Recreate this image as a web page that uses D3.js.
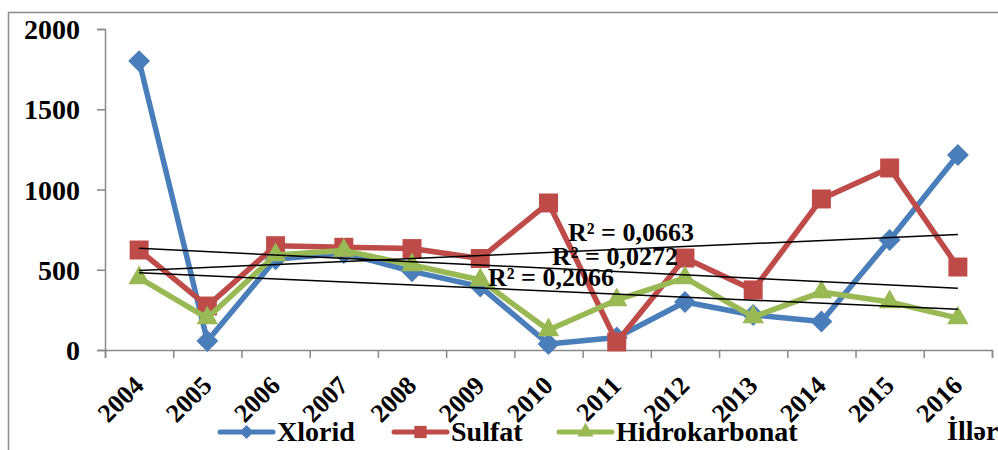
<!DOCTYPE html>
<html>
<head>
<meta charset="utf-8">
<script src="https://cdn.jsdelivr.net/npm/d3@7"></script>
<style>
  html, body { margin: 0; padding: 0; background: #fff; }
  svg { display: block; }
  text { font-family: "Liberation Serif", "Times New Roman", serif; font-weight: bold; fill: #000; }
</style>
</head>
<body>
<div id="chart"></div>
<script>
const years = ['2004', '2005', '2006', '2007', '2008', '2009', '2010', '2011', '2012', '2013', '2014', '2015', '2016'];
const xlorid = [1800, 56, 565, 604, 490, 395, 37, 78, 299, 218, 178, 685, 1215];
const sulfat = [623, 274, 650, 640, 632, 570, 916, 50, 573, 374, 941, 1134, 517];
const hidrokarbonat = [449, 199, 592, 620, 530, 436, 125, 312, 449, 206, 361, 299, 199];
const seriesNames = ['Xlorid', 'Sulfat', 'Hidrokarbonat'];
const r2Labels = ['R² = 0,0272', 'R² = 0,0663', 'R² = 0,2066'];
const yTicks = [0, 500, 1000, 1500, 2000];
const axisTitle = 'İllər';

const width = 998;
const height = 450;
const colors = ['#4a7ebb', '#be4b48', '#98b954'];
const symbols = [d3.symbolSquare, d3.symbolSquare, d3.symbolTriangle];
const markerSize = [240, 360, 200];
const legendSize = [100, 150, 110];

const svg = d3.select('#chart')
  .append('svg')
  .attr('width', width)
  .attr('height', height);

// outer frame of the chart area
svg.append('rect')
  .attr('x', 8.5)
  .attr('y', 12.5)
  .attr('width', width + 10)
  .attr('height', height + 10)
  .attr('fill', 'none')
  .attr('stroke', '#8c8c8c')
  .attr('stroke-width', 1.5);

const xEdge = d3.scaleLinear().domain([0, years.length]).range([105, 992]);
const xc = i => xEdge(i + 0.5);
const y = d3.scaleLinear().domain([0, 2000]).range([350, 29]);

// y axis
const yAxis = svg.append('g')
  .attr('transform', 'translate(105,0)')
  .call(d3.axisLeft(y).tickValues(yTicks).tickSize(8).tickPadding(17).tickFormat(d3.format('d')));
yAxis.selectAll('text')
  .attr('font-size', 28)
  .attr('dy', '0.34em')
  .style('font-family', '"Liberation Serif", serif')
  .style('font-weight', 'bold');

// x axis
svg.append('g')
  .attr('transform', 'translate(0,350)')
  .call(d3.axisBottom(xEdge).tickValues(d3.range(years.length + 1)).tickSize(8).tickFormat(''));

svg.selectAll('.domain, .tick line')
  .attr('stroke', '#898989')
  .attr('stroke-width', 1.5);

svg.append('g')
  .selectAll('text')
  .data(years)
  .join('text')
  .attr('transform', (d, i) => `translate(${xc(i) + 6},387) rotate(-45)`)
  .attr('text-anchor', 'end')
  .attr('font-size', 26)
  .text(d => d);

// series
const allSeries = [xlorid, sulfat, hidrokarbonat];
const line = d3.line()
  .x((d, i) => xc(i))
  .y(d => y(d));

allSeries.forEach((values, s) => {
  const g = svg.append('g');
  g.append('path')
    .datum(values)
    .attr('d', line)
    .attr('fill', 'none')
    .attr('stroke', colors[s])
    .attr('stroke-width', 5.5)
    .attr('stroke-linejoin', 'round');
  g.selectAll('path.marker')
    .data(values)
    .join('path')
    .attr('class', 'marker')
    .attr('d', d3.symbol().type(symbols[s]).size(markerSize[s]))
    .attr('transform', (d, i) => `translate(${xc(i)},${y(d)})` + (s === 0 ? ' rotate(45)' : ''))
    .attr('fill', colors[s]);
});

// linear trendlines computed from the data
allSeries.forEach(values => {
  const n = values.length;
  const mx = d3.mean(values, (d, i) => i);
  const my = d3.mean(values);
  const sxy = d3.sum(values, (d, i) => (i - mx) * (d - my));
  const sxx = d3.sum(values, (d, i) => (i - mx) * (i - mx));
  const slope = sxy / sxx;
  const b = my - slope * mx;
  svg.append('line')
    .attr('x1', xc(0))
    .attr('y1', y(b))
    .attr('x2', xc(n - 1))
    .attr('y2', y(b + slope * (n - 1)))
    .attr('stroke', '#000')
    .attr('stroke-width', 1.5);
});

const r2Pos = [[552, 265], [568, 241], [488, 286]];
svg.append('g')
  .selectAll('text')
  .data(r2Labels)
  .join('text')
  .attr('x', (d, i) => r2Pos[i][0])
  .attr('y', (d, i) => r2Pos[i][1])
  .attr('font-size', 26)
  .text(d => d);

// legend
const legendX = [218, 392, 557];
const legend = svg.append('g');
seriesNames.forEach((name, s) => {
  const g = legend.append('g').attr('transform', `translate(${legendX[s]},432)`);
  g.append('line')
    .attr('x1', 2)
    .attr('x2', 55)
    .attr('stroke', colors[s])
    .attr('stroke-width', 5)
    .attr('stroke-linecap', 'round');
  g.append('path')
    .attr('d', d3.symbol().type(symbols[s]).size(legendSize[s]))
    .attr('transform', 'translate(28.5,0)' + (s === 0 ? ' rotate(45)' : ''))
    .attr('fill', colors[s]);
  g.append('text')
    .attr('x', 59)
    .attr('y', 9)
    .attr('font-size', 28)
    .text(name);
});

svg.append('text')
  .attr('x', 947)
  .attr('y', 440)
  .attr('font-size', 28)
  .text(axisTitle);
</script>
</body>
</html>
